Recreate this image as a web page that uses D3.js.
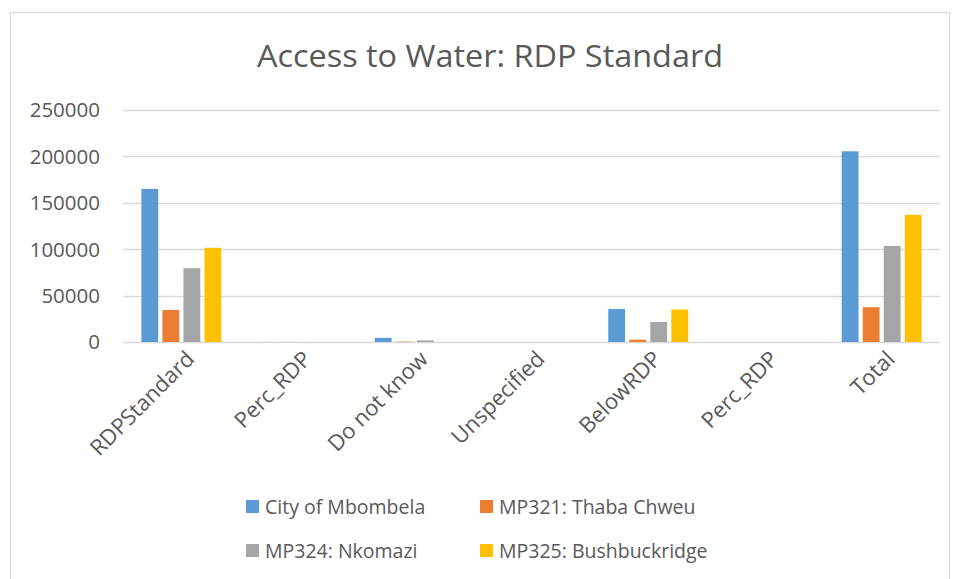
<!DOCTYPE html>
<html>
<head>
<meta charset="utf-8">
<script src="https://cdn.jsdelivr.net/npm/d3@7"></script>
<style>
	body { margin: 0; background: #fff; }
	text { font-family: "Open Sans", "Liberation Sans", sans-serif; fill: #595959; }
</style>
</head>
<body>
<div id="chart"></div>
<script>
// categories along the x axis
var categories = ["RDPStandard", "Perc_RDP", "Do not know", "Unspecified", "BelowRDP", "Perc_RDP ", "Total"];
// one list per municipality, same order as categories
var mbombela = [165000, 80, 4500, 0, 35500, 17, 205500];
var thabaChweu = [34500, 92, 400, 0, 2500, 7, 37500];
var nkomazi = [79500, 77, 1700, 0, 21500, 21, 103500];
var bushbuckridge = [101500, 74, 0, 0, 35000, 26, 137000];
var seriesNames = ["City of Mbombela", "MP321: Thaba Chweu", "MP324: Nkomazi", "MP325: Bushbuckridge"];
var seriesColors = ["#5B9BD5", "#ED7D31", "#A5A5A5", "#FFC000"];
var yTicks = [0, 50000, 100000, 150000, 200000, 250000];

function init(){
	var width = 956;
	var height = 579;
	var seriesValues = [mbombela, thabaChweu, nkomazi, bushbuckridge];

	var svg = d3.select("#chart").append("svg")
				.attr("width", width)
				.attr("height", height);

	//chart border
	svg.append("rect")
	   .attr("x", 10.5).attr("y", 12.5)
	   .attr("width", 939).attr("height", 600)
	   .attr("fill", "white")
	   .attr("stroke", "#d9d9d9");

	var x0 = d3.scaleBand().domain(d3.range(categories.length))
			   .range([123, 940])
			   .paddingInner(0.315).paddingOuter(0.1575);
	var x1 = d3.scaleBand().domain(d3.range(seriesNames.length))
			   .range([0, x0.bandwidth()])
			   .paddingInner(0.2).paddingOuter(0);
	var y = d3.scaleLinear().domain([0, 250000]).range([342, 110]);

	//gridlines
	svg.append("g").selectAll("line").data(yTicks).enter()
	   .append("line")
	   .attr("x1", 123).attr("x2", 940)
	   .attr("y1", d => Math.round(y(d)) + 0.5)
	   .attr("y2", d => Math.round(y(d)) + 0.5)
	   .attr("stroke", "#d9d9d9")
	   .attr("stroke-width", 1.5);

	//y tick labels
	svg.append("g").selectAll("text").data(yTicks).enter()
	   .append("text")
	   .attr("x", 100)
	   .attr("y", d => y(d))
	   .attr("dy", "0.36em")
	   .attr("text-anchor", "end")
	   .style("font-size", "20.5px")
	   .text(d => d);

	//bars
	var groups = svg.append("g").selectAll("g").data(seriesValues).enter()
					.append("g")
					.attr("fill", (d, i) => seriesColors[i]);

	groups.selectAll("rect")
		  .data((vals, s) => vals.map((v, c) => ({v: v, c: c, s: s})))
		  .enter().append("rect")
		  .attr("x", d => x0(d.c) + x1(d.s))
		  .attr("width", x1.bandwidth())
		  .attr("y", d => y(d.v))
		  .attr("height", d => y(0) - y(d.v));

	//x axis labels, rotated
	svg.append("g").selectAll("text").data(categories).enter()
	   .append("text")
	   .attr("text-anchor", "end")
	   .attr("transform", (d, i) => "translate(" + (x0(i) + x0.bandwidth() / 2 + 9) + ",355) rotate(-45)")
	   .attr("dy", "0.35em")
	   .style("font-size", "22px")
	   .text(d => d.trim());

	//title
	svg.append("text")
	   .attr("x", 490)
	   .attr("y", 67)
	   .attr("text-anchor", "middle")
	   .style("font-size", "31px")
	   .attr("textLength", 466)
	   .attr("lengthAdjust", "spacingAndGlyphs")
	   .text("Access to Water: RDP Standard");

	//legend
	var legend = svg.append("g").selectAll("g").data(seriesNames).enter()
					.append("g")
					.attr("transform", (d, i) => "translate(" + (i % 2 == 0 ? 246 : 480) + "," + (i < 2 ? 507 : 551) + ")");

	legend.append("rect")
		  .attr("x", 0).attr("y", -7)
		  .attr("width", 13).attr("height", 13)
		  .attr("fill", (d, i) => seriesColors[i]);

	legend.append("text")
		  .attr("x", 19)
		  .attr("dy", "0.35em")
		  .style("font-size", "19.5px")
		  .text(d => d);
}

window.onload = init;
</script>
</body>
</html>
